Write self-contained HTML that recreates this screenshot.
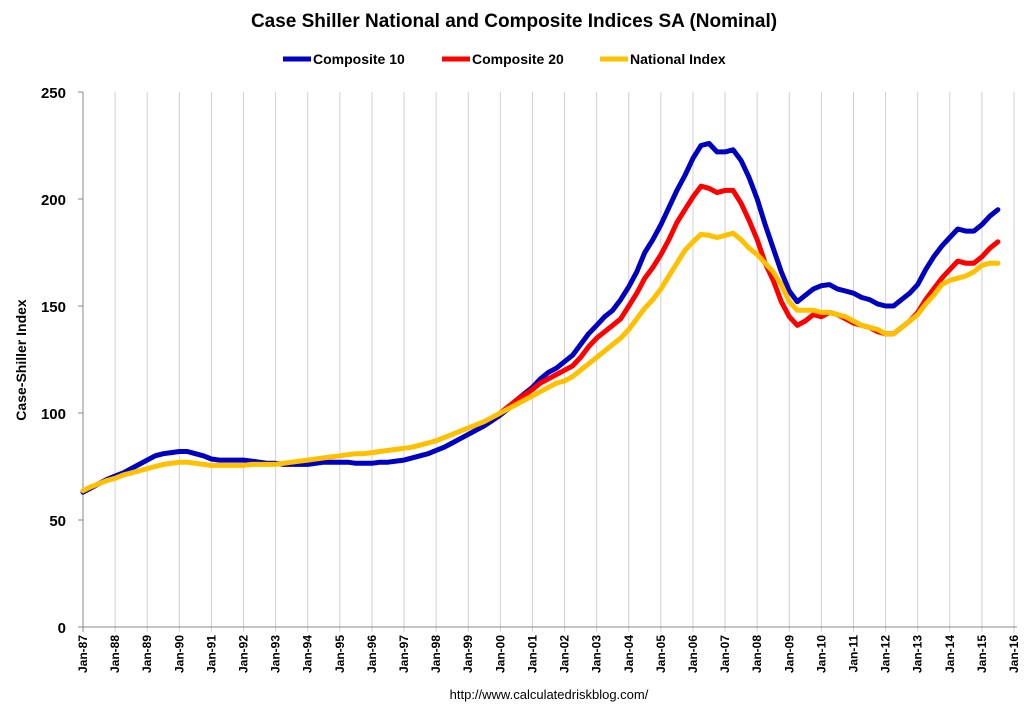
<!DOCTYPE html>
<html><head><meta charset="utf-8"><style>
body{margin:0;background:#fff;font-family:"Liberation Sans",Arial,sans-serif}
svg text{font-family:"Liberation Sans",Arial,sans-serif}
</style></head><body>
<svg id="chart" width="1029" height="710" xmlns="http://www.w3.org/2000/svg">
<text x="514" y="27" text-anchor="middle" font-size="19" font-weight="bold" fill="#000">Case Shiller National and Composite Indices SA (Nominal)</text>
<g>
<g><line x1="283" y1="59" x2="311" y2="59" stroke="#0000C0" stroke-width="5"/><text x="313" y="64" font-size="14" font-weight="bold">Composite 10</text></g>
<g><line x1="442" y1="59" x2="470" y2="59" stroke="#FF0000" stroke-width="5"/><text x="472" y="64" font-size="14" font-weight="bold">Composite 20</text></g>
<g><line x1="600" y1="59" x2="628" y2="59" stroke="#FFC000" stroke-width="5"/><text x="630" y="64" font-size="14" font-weight="bold">National Index</text></g>
</g>
<text transform="translate(26,360) rotate(-90)" text-anchor="middle" font-size="14" font-weight="bold">Case-Shiller Index</text>
<text x="549" y="699" text-anchor="middle" font-size="13">http://www.calculatedriskblog.com/</text>
<g id="grid"></g><g id="axes"></g><g id="series"></g>
</svg>
<script>
const yTicks=[0,50,100,150,200,250];
const xYears=[87,88,89,90,91,92,93,94,95,96,97,98,99,0,1,2,3,4,5,6,7,8,9,10,11,12,13,14,15,16];
const comp10=[63,65,67,69,70.5,72,74,76,78,80,81,81.5,82,82,81,80,78.5,78,78,78,78,77.5,77,76.5,76.5,76,76,76,76,76.5,77,77,77,77,76.5,76.5,76.5,77,77,77.5,78,79,80,81,82.5,84,86,88,90,92,94,96.5,99,102,106,109,112,116,119,121,124,127,132,137,141,145,148,153,159,166,175,181,188,196,204,211,219,225,226,222,222,223,218,210,200,188,177,166,157,152,155,158,159.5,160,158,157,156,154,153,151,150,150,153,156,160,167,173,178,182,186,185,185,188,192,195];
const comp20=[100,103,106,108.5,111,114,116,118,120,122,126,131,135,138,141,144,150,156,163,168,174,181,189,195,201,206,205,203,204,204,198,190,181,170,162,152,145,141,143,146,145,147,146,144,142,141,140,138,137,137,140,143,147,153,158,163,167,171,170,170,173,177,180];
const national=[63.7,65.5,67,68.5,69.5,71,72,73,74,75,76,76.5,77,77,76.5,76,75.5,75.5,75.5,75.5,75.5,76,76,76,76,76.5,77,77.5,78,78.5,79,79.5,80,80.5,81,81,81.5,82,82.5,83,83.5,84,85,86,87,88.5,90,91.5,93,94.5,96,98,100,102,104,106,108,110,112,114,115,117,120,123,126,129,132,135,139,144,149,153,158,164,170,176,180,183.5,183,182,183,184,181,177,174,170,166,160,152,148,148,148,147,147,146,145,143,141,140,139,137,137,140,143,146,151,155,160,162,163,164,166,169,170,170];
const X0=83,X1=1014,Y0=627,Y1=92;
const xs=q=>X0+(X1-X0)*q/(29*4);
const ys=v=>Y0-(Y0-Y1)*v/250;
const NS="http://www.w3.org/2000/svg";
const grid=document.getElementById('grid'),axes=document.getElementById('axes'),ser=document.getElementById('series');
function mk(tag,attrs,parent){const e=document.createElementNS(NS,tag);for(const k in attrs)e.setAttribute(k,attrs[k]);parent.appendChild(e);return e;}
xYears.forEach((yr,i)=>{
 const x=xs(i*4);
 const g=mk('line',{x1:x,y1:Y1,x2:x,y2:Y0+5,stroke:i==0?'#888':'#d0d0d0','stroke-width':1},grid);
 
 
 const t=mk('text',{transform:`translate(${x+4},${Y0+8}) rotate(-90)`,'text-anchor':'end','font-size':12,'font-weight':'bold'},axes);
 t.textContent='Jan-'+String(yr).padStart(2,'0');
 
 
});
const xl=mk('line',{x1:X0,y1:Y0,x2:X1+3,y2:Y0,stroke:'#888'},axes);


yTicks.forEach(v=>{
 const tk=mk('line',{x1:X0-5,y1:ys(v),x2:X0,y2:ys(v),stroke:'#888'},axes);
 
 
 const t=mk('text',{x:X0-17,y:ys(v)+6,'text-anchor':'end','font-size':15,'font-weight':'bold'},axes);
 t.textContent=v;
 
 
});
function line(arr,off,color,name){
 const d=arr.map((v,i)=>(i?'L':'M')+xs(i+off).toFixed(1)+','+ys(v).toFixed(1)).join('');
 const p=mk('path',{d:d,fill:'none',stroke:color,'stroke-width':5,'stroke-linejoin':'round','stroke-linecap':'round'},ser);
 
 
}
line(comp10,0,'#0000C0','composite-10-line');
line(comp20,52,'#FF0000','composite-20-line');
line(national,0,'#FFC000','national-index-line');
</script>
</body></html>
